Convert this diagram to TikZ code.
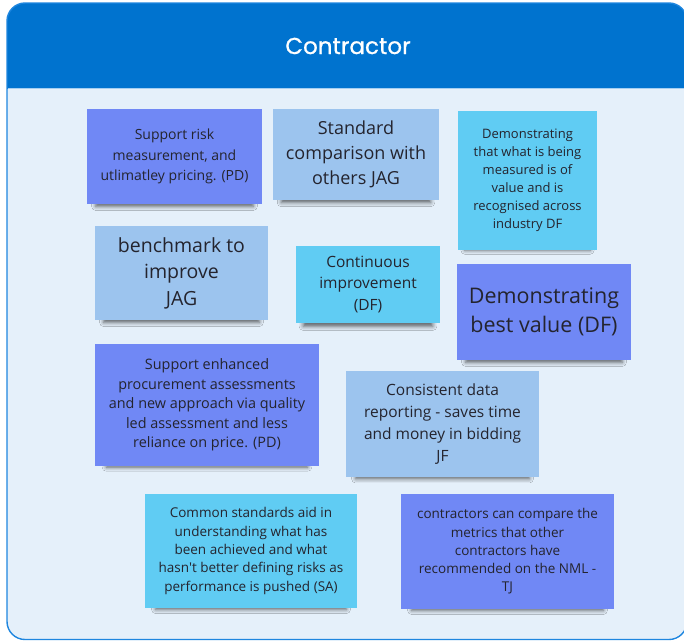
\documentclass[tikz,border=0pt]{standalone}
\usepackage{fontspec}
\setmainfont{Open Sans}[Ligatures=TeXOff]
\newfontfamily\titlefont[FakeBold=0.8]{Poppins}
\usetikzlibrary{shadows.blur}

\definecolor{headblue}{HTML}{0073CF}
\definecolor{framestroke}{HTML}{1E86DF}
\definecolor{bodyfill}{HTML}{E5F0FA}
\definecolor{notepurple}{HTML}{7088F5}
\definecolor{notelight}{HTML}{9CC4EE}
\definecolor{notecyan}{HTML}{60CCF3}
\definecolor{notetext}{HTML}{24242E}

\tikzset{
  stickynote/.style={rectangle, inner sep=3pt, align=center, text=notetext,
    blur shadow={shadow xshift=0pt, shadow yshift=-8pt, shadow opacity=60,
                 shadow blur radius=4.5pt, shadow scale=0.9}},
  purplenote/.style={stickynote, fill=notepurple},
  lightnote/.style={stickynote, fill=notelight},
  cyannote/.style={stickynote, fill=notecyan},
  fs/.style 2 args={font=\fontsize{#1}{#2}\selectfont},
}

\begin{document}
\begin{tikzpicture}[x=1pt,y=-1pt]
  \useasboundingbox (0,0) rectangle (684,640);

  % board frame with header band
  \def\boardpath{(7,300) [rounded corners=18pt] -- (7,3) -- (687,3) -- (687,639.5) -- (7,639.5) -- cycle}
  \fill[bodyfill] \boardpath;
  \begin{scope}
    \clip \boardpath;
    \fill[headblue] (0,0) rectangle (700,88.5);
  \end{scope}
  \draw[framestroke, line width=1.4pt] \boardpath;
  \draw[framestroke!40!white, line width=0.8pt] (7.7,88.8) -- (686,88.8);

  \node[font=\titlefont\fontsize{23}{27}\selectfont, text=white] (title) at (348,46) {Contractor};

  % sticky notes
  \node[purplenote, fs={14}{20.5}, minimum width=175pt, minimum height=95pt] (n1) at (174.5,156.5)
    {Support risk\\measurement, and\\utlimatley pricing. (PD)};
  \node[lightnote, fs={18}{25}, minimum width=166pt, minimum height=91pt] (n2) at (356,154.5)
    {Standard\\comparison with\\others JAG};
  \node[cyannote, fs={13}{18}, minimum width=139pt, minimum height=139pt] (n5) at (527.5,180.5)
    {Demonstrating\\that what is being\\measured is of\\value and is\\recognised across\\industry DF};
  \node[lightnote, fs={19.5}{26.5}, minimum width=173pt, minimum height=94pt] (n3) at (181.5,273)
    {benchmark to\\improve\\JAG};
  \node[cyannote, fs={15.5}{21.5}, minimum width=144pt, minimum height=77pt] (n4) at (368,284.5)
    {Continuous\\improvement\\(DF)};
  \node[purplenote, fs={21.5}{29}, minimum width=174pt, minimum height=96pt] (n6) at (544,312)
    {Demonstrating\\best value (DF)};
  \node[purplenote, fs={14.4}{19.6}, minimum width=224pt, minimum height=122pt] (n7) at (207,405)
    {Support enhanced\\procurement assessments\\and new approach via quality\\led assessment and less\\reliance on price. (PD)};
  \node[lightnote, fs={15.5}{22}, minimum width=193pt, minimum height=106pt] (n8) at (442.5,424)
    {Consistent data\\reporting - saves time\\and money in bidding\\JF};
  \node[cyannote, fs={13.5}{18.3}, minimum width=212pt, minimum height=114pt] (n9) at (251,551)
    {Common standards aid in\\understanding what has\\been achieved and what\\hasn't better defining risks as\\performance is pushed (SA)};
  \node[purplenote, fs={13.5}{18.3}, minimum width=213pt, minimum height=115pt] (n10) at (507.5,551.5)
    {contractors can compare the\\metrics that other\\contractors have\\recommended on the NML -\\TJ};
\end{tikzpicture}
\end{document}
